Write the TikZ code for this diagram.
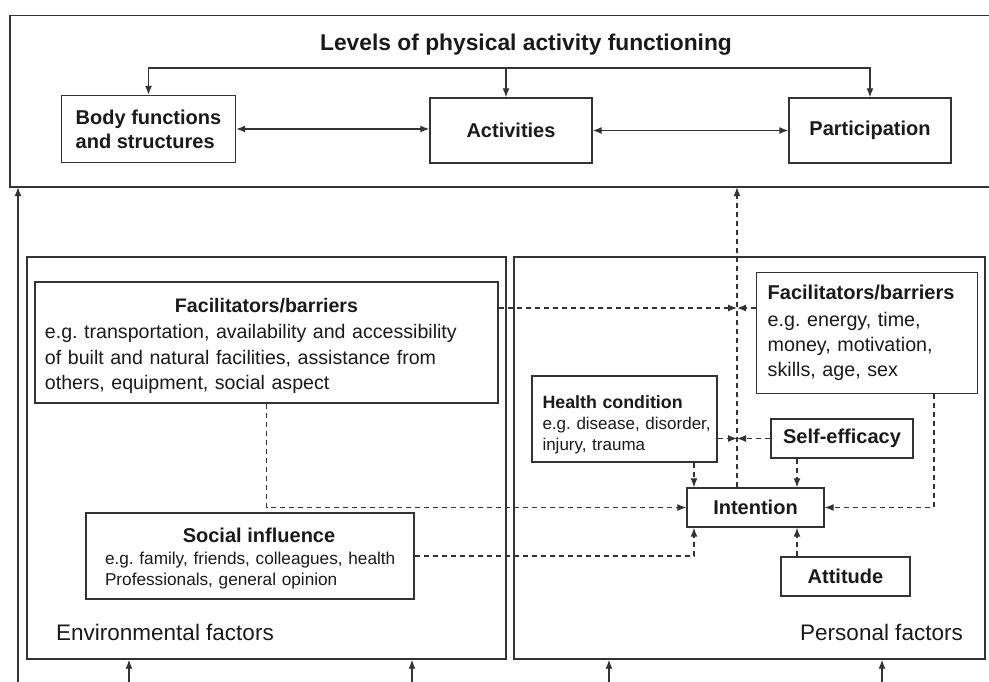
\documentclass[tikz,border=0pt]{standalone}
\usepackage{fontspec}
\setmainfont{Liberation Sans}
\usetikzlibrary{arrows.meta,calc}
\hyphenpenalty=10000
\exhyphenpenalty=10000

\definecolor{linecol}{HTML}{333333}
\definecolor{textcol}{HTML}{1A1A1A}

\tikzset{
  box/.style={draw=linecol, line width=1.4pt, inner sep=0pt, fill=white, text=textcol},
  bigbold/.style={font=\fontsize{20}{24}\selectfont\bfseries},
  tip/.style={-{Latex[length=9pt,width=7pt]}},
  sconn/.style={draw=linecol, line width=1.3pt, tip},
  dbl/.style={draw=linecol, line width=1.3pt, {Latex[length=9pt,width=7pt]}-{Latex[length=9pt,width=7pt]}},
  dconn/.style={draw=linecol, line width=1.2pt, dash pattern=on 5pt off 4pt, tip},
  region/.style={draw=linecol, line width=1.4pt, inner sep=0pt},
  caption/.style={font=\fontsize{22.5}{27}\selectfont, text=textcol, inner sep=0pt}
}

\begin{document}
\frenchspacing
\begin{tikzpicture}[x=1pt, y=-1pt]
\useasboundingbox (0,0) rectangle (989,682);

% --- levels of functioning (open on the right) ---
\node[minimum width=979pt, minimum height=171pt, inner sep=0pt] (levels) at (499.5,101.5) {};
\draw[draw=linecol, line width=1.4pt] (levels.north east) -- (levels.north west) -- (levels.south west) -- (levels.south east);

\node[font=\fontsize{22.8}{27}\selectfont\bfseries, text=textcol, inner sep=0pt] (title) at (526,45) {Levels of physical activity functioning};

\node[box, bigbold, minimum width=174pt, minimum height=67pt, align=left] (body) at (148.5,129) {Body functions\\and structures};
\node[box, bigbold, minimum width=162pt, minimum height=65pt] (act) at (511,130.5) {Activities};
\node[box, bigbold, minimum width=162pt, minimum height=65pt] (part) at (870,130.5) {Participation};

\coordinate (br) at (506,68);
\draw[sconn] (br) -- (br |- act.north);
\draw[sconn] (br) -| (body.north);
\draw[sconn] (br) -| (part.north);
\draw[dbl] (body.east) -- (body.east -| act.west);
\draw[dbl] (act.east) -- (act.east -| part.west);

% --- factor regions ---
\node[region, minimum width=479pt, minimum height=402pt] (envbox) at (266.5,458) {};
\node[region, minimum width=471pt, minimum height=402pt] (persbox) at (749.5,458) {};

\node[caption, anchor=west] (envlab) at (56,632) {Environmental factors};
\node[caption, anchor=east] (perslab) at (963,632) {Personal factors};

% --- environmental boxes ---
\node[box, minimum width=463pt, minimum height=121pt, inner xsep=10pt, text width=443pt, align=left,
      font=\fontsize{19.6}{25.5}\selectfont] (efac) at (266.5,342.5)
  {{\centering\bfseries Facilitators/barriers\par}
   \vspace{1pt}\mbox{e.g. transportation, availability and accessibility}\\
   \mbox{of built and natural facilities, assistance from}\\
   \mbox{others, equipment, social aspect}\par\vspace{-7pt}};

\node[box, minimum width=328pt, minimum height=86pt, inner xsep=19pt, text width=290pt, align=left,
      font=\fontsize{17.2}{21}\selectfont] (si) at (250,556)
  {{\centering\hspace*{18pt}\fontsize{20}{24}\selectfont\bfseries Social influence\par}
   \vspace{1pt}\mbox{e.g. family, friends, colleagues, health}\\
   \mbox{Professionals, general opinion}\par\vspace{-5pt}};

% --- personal boxes ---
\node[box, anchor=north west, minimum width=221pt, minimum height=121pt, inner xsep=11pt, text width=199pt,
      align=left, font=\fontsize{19.7}{25}\selectfont] (pfac) at (756,272)
  {{\fontsize{20}{24}\selectfont\bfseries Facilitators/barriers\par}
   \vspace{2pt}\mbox{e.g. energy, time,}\\
   \mbox{money, motivation,}\\
   \mbox{skills, age, sex}};

\node[box, minimum width=185pt, minimum height=86pt, inner xsep=10.5pt, text width=164pt, align=left,
      font=\fontsize{17}{21}\selectfont] (hc) at (624.5,419)
  {{\fontsize{17.8}{21}\selectfont\bfseries Health condition\par}
   \mbox{e.g. disease, disorder,}\\
   \mbox{injury, trauma}\par\vspace{-12pt}};

\node[box, bigbold, minimum width=142pt, minimum height=39pt] (se) at (842,438.5) {Self-efficacy};
\node[box, bigbold, minimum width=137pt, minimum height=39pt] (int) at (755.5,507.5) {Intention};
\node[box, bigbold, minimum width=129pt, minimum height=39pt] (att) at (845.5,576.5) {Attitude};

% --- influences on intention ---
\coordinate (vx) at (737,300);
\coordinate (fy) at (737,308);
\coordinate (ha) at (694,0);
\coordinate (sa) at (797,0);
\coordinate (ra) at (934,0);

\draw[dconn] (int.north -| vx) -- (vx |- levels.south);
\draw[dconn] (efac.east |- fy) -- (fy);
\draw[dconn] (pfac.west |- fy) -- (fy);
\draw[dconn] (hc.east |- se.west) -- (vx |- se.west);
\draw[dconn] (se.west) -- (vx |- se.west);
\draw[dconn] (hc.south -| ha) -- (int.north -| ha);
\draw[dconn] (se.south -| sa) -- (int.north -| sa);
\draw[dconn] (efac.south) |- (int.west);
\draw[dconn] (pfac.south -| ra) |- (int.east);
\draw[dconn] (si.east) -| (int.south -| ha);
\draw[dconn] (att.north -| sa) -- (int.south -| sa);

% --- inputs from below ---
\coordinate (lb) at (18,682);
\coordinate (b1) at (129,682);
\coordinate (b2) at (412,682);
\coordinate (b3) at (609,682);
\coordinate (b4) at (882,682);
\draw[sconn] (lb) -- (lb |- levels.south);
\draw[sconn] (b1) -- (b1 |- envbox.south);
\draw[sconn] (b2) -- (b2 |- envbox.south);
\draw[sconn] (b3) -- (b3 |- persbox.south);
\draw[sconn] (b4) -- (b4 |- persbox.south);
\end{tikzpicture}
\end{document}
